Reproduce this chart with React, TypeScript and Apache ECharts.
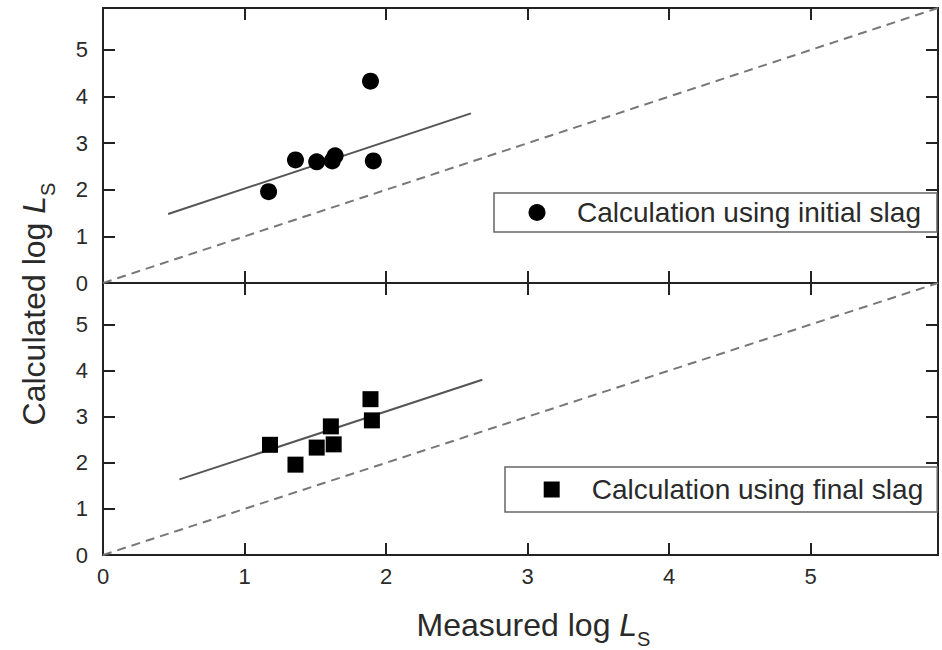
import React, { useEffect, useRef } from "react";
import * as echarts from "echarts";

// ---- data ----
const measuredInitial = [1.17, 1.36, 1.51, 1.62, 1.64, 1.89, 1.91];
const calculatedInitial = [1.96, 2.64, 2.6, 2.62, 2.73, 4.33, 2.62];
const measuredFinal = [1.18, 1.36, 1.51, 1.61, 1.63, 1.89, 1.9];
const calculatedFinal = [2.39, 1.96, 2.33, 2.79, 2.4, 3.38, 2.92];
const fitInitialX = [0.46, 2.6];
const fitInitialY = [1.48, 3.64];
const fitFinalX = [0.54, 2.68];
const fitFinalY = [1.64, 3.8];
const parityLine = [0, 5.9];
const axisMax = 5.9;
const seriesNames = ["Calculation using initial slag", "Calculation using final slag"];

const FONT = "'Liberation Sans', Arial, sans-serif";
const AXIS = "#222";
const TEXT = "#2a2a2a";

const zip = (xs: number[], ys: number[]) => xs.map((x, i) => [x, ys[i]]);
const intLabel = (v: number) => (Math.abs(v - Math.round(v)) < 1e-6 ? String(Math.round(v)) : "");

function xAx(gridIndex: number, position: "bottom" | "top", labels: boolean, extra: any = {}) {
  return {
    type: "value",
    gridIndex,
    position,
    min: 0,
    max: axisMax,
    interval: 1,
    axisLine: { show: true, onZero: false, lineStyle: { color: AXIS, width: 2 } },
    axisTick: { show: true, inside: true, length: 12, lineStyle: { color: AXIS, width: 2 } },
    axisLabel: {
      show: labels,
      margin: 10,
      fontSize: 22,
      color: TEXT,
      fontFamily: FONT,
      formatter: intLabel,
    },
    splitLine: { show: false },
    ...extra,
  };
}

function yAx(gridIndex: number, position: "left" | "right", labels: boolean) {
  return {
    type: "value",
    gridIndex,
    position,
    min: 0,
    max: axisMax,
    interval: 1,
    axisLine: { show: true, onZero: false, lineStyle: { color: AXIS, width: 2 } },
    axisTick: { show: true, inside: true, length: 12, lineStyle: { color: AXIS, width: 2 } },
    axisLabel: {
      show: labels,
      margin: 15,
      fontSize: 22,
      color: TEXT,
      fontFamily: FONT,
      formatter: intLabel,
    },
    splitLine: { show: false },
  };
}

const titleRich = {
  n: { fontSize: 32, lineHeight: 48, verticalAlign: "middle", color: TEXT, fontFamily: FONT },
  i: { fontSize: 32, lineHeight: 48, verticalAlign: "middle", fontStyle: "italic", color: TEXT, fontFamily: FONT },
  s: { fontSize: 20, lineHeight: 20, verticalAlign: "bottom", color: TEXT, fontFamily: FONT },
};

function legendFor(name: string, icon: string, left: number, top: number, size: number, pad: number[], textPad: number) {
  return {
    data: [name],
    left,
    top,
    orient: "horizontal",
    icon,
    itemWidth: size,
    itemHeight: size,
    padding: pad,
    selectedMode: false,
    backgroundColor: "#fff",
    borderColor: "#666",
    borderWidth: 1.5,
    borderRadius: 0,
    itemStyle: { color: "#000", opacity: 1 },
    textStyle: { fontSize: 28, lineHeight: 28, color: TEXT, fontFamily: FONT, padding: [0, 0, 0, textPad] },
  };
}

export default function App() {
  const ref = useRef<HTMLDivElement>(null);
  useEffect(() => {
    if (!ref.current) return;
    const chart = echarts.init(ref.current, null, { renderer: "svg" });
    const option: any = {
      animation: false,
      backgroundColor: "#fff",
      grid: [
        { left: 103, right: 4, top: 8, height: 275, containLabel: false },
        { left: 103, right: 4, top: 283, height: 274, containLabel: false },
      ],
      xAxis: [
        xAx(0, "bottom", false),
        xAx(0, "top", false),
        xAx(1, "bottom", true, {
          name: "{n|Measured log }{i|L}{s|S}",
          nameLocation: "middle",
          nameGap: 46,
          nameTextStyle: { rich: titleRich, padding: [0, 0, 0, 26] },
        }),
        xAx(1, "top", false),
      ],
      yAxis: [yAx(0, "left", true), yAx(0, "right", false), yAx(1, "left", true), yAx(1, "right", false)],
      legend: [
        legendFor(seriesNames[0], "circle", 494, 193, 17, [5.5, 16, 5.5, 34.5], 26.5),
        legendFor(seriesNames[1], "rect", 505, 467, 16, [8.5, 14, 8.5, 38.7], 27),
      ],
      graphic: [
        {
          type: "text",
          x: 34,
          y: 304,
          rotation: Math.PI / 2,
          style: {
            text: "{n|Calculated log }{i|L}{s|S}",
            align: "center",
            verticalAlign: "middle",
            rich: titleRich,
            fill: TEXT,
          },
        },
      ],
      series: [
        {
          type: "line",
          xAxisIndex: 0,
          yAxisIndex: 0,
          data: zip(parityLine, parityLine),
          symbol: "none",
          silent: true,
          lineStyle: { color: "#777", width: 2, type: [9, 6] },
          z: 1,
        },
        {
          type: "line",
          xAxisIndex: 0,
          yAxisIndex: 0,
          data: zip(fitInitialX, fitInitialY),
          symbol: "none",
          silent: true,
          lineStyle: { color: "#555", width: 2 },
          z: 1,
        },
        {
          name: seriesNames[0],
          type: "scatter",
          xAxisIndex: 0,
          yAxisIndex: 0,
          data: zip(measuredInitial, calculatedInitial),
          symbol: "circle",
          symbolSize: 17,
          itemStyle: { color: "#000", opacity: 1 },
          z: 3,
        },
        {
          type: "line",
          xAxisIndex: 2,
          yAxisIndex: 2,
          data: zip(parityLine, parityLine),
          symbol: "none",
          silent: true,
          lineStyle: { color: "#777", width: 2, type: [9, 6] },
          z: 1,
        },
        {
          type: "line",
          xAxisIndex: 2,
          yAxisIndex: 2,
          data: zip(fitFinalX, fitFinalY),
          symbol: "none",
          silent: true,
          lineStyle: { color: "#555", width: 2 },
          z: 1,
        },
        {
          name: seriesNames[1],
          type: "scatter",
          xAxisIndex: 2,
          yAxisIndex: 2,
          data: zip(measuredFinal, calculatedFinal),
          symbol: "rect",
          symbolSize: 16,
          itemStyle: { color: "#000", opacity: 1 },
          z: 3,
        },
      ],
    };
    chart.setOption(option);
    return () => chart.dispose();
  }, []);
  return <div ref={ref} style={{ position: "fixed", left: 0, top: 0, width: 942, height: 650 }} />;
}
